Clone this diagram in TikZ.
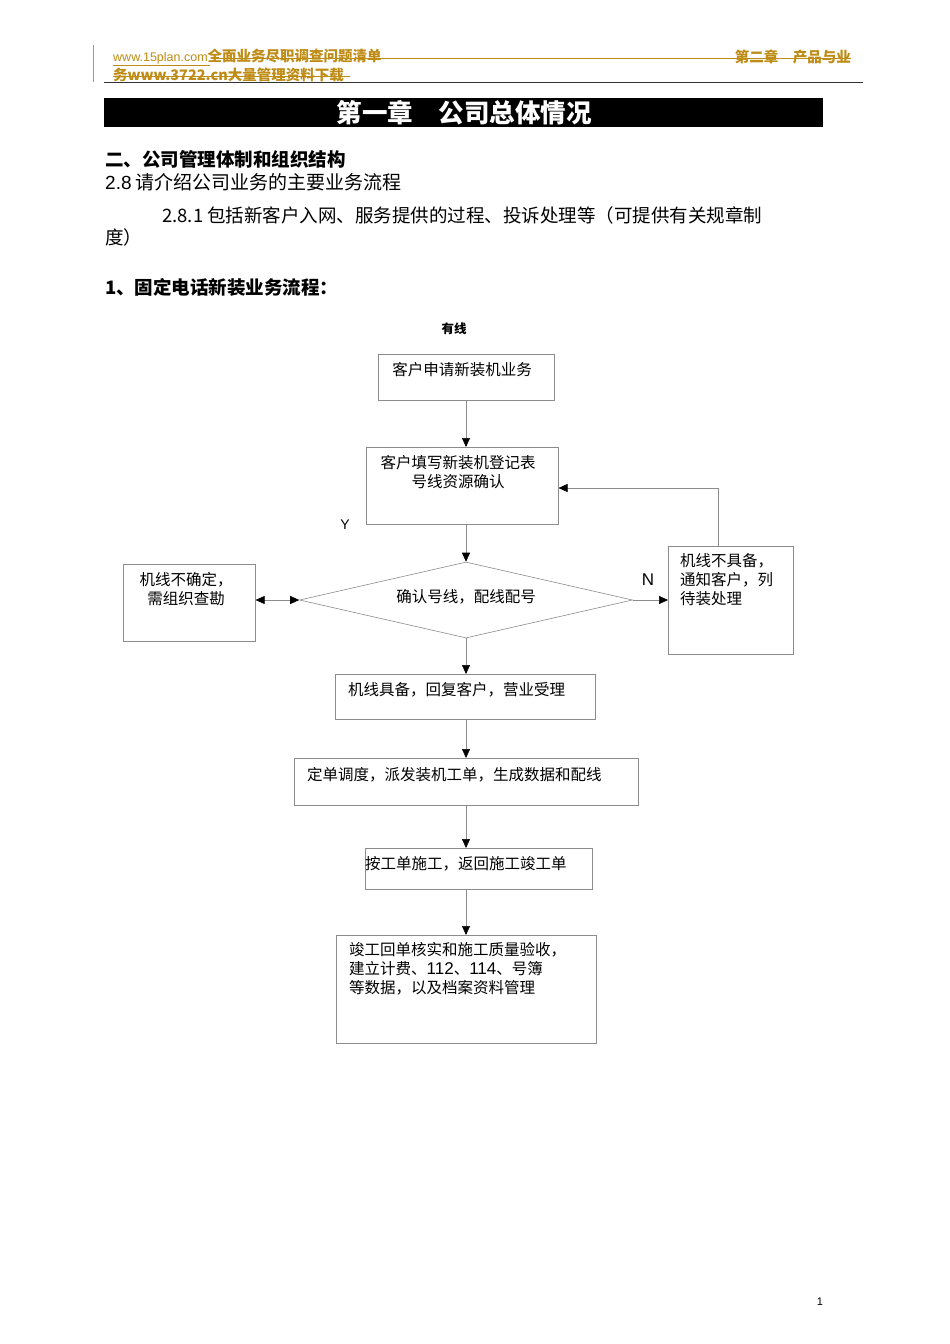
\documentclass[tikz,border=0pt]{standalone}
\usepackage{fontspec}
\setmainfont{Noto Sans CJK SC}
\newfontfamily\lat{Liberation Sans}
\usetikzlibrary{shapes.geometric,arrows.meta}
\definecolor{gold}{RGB}{190,140,20}
\begin{document}
\begin{tikzpicture}[x=1pt,y=-1pt,
  box/.style={draw=black!45,line width=0.6pt,anchor=north west,inner sep=0pt},
  t/.style={font=\fontsize{15.5}{19}\selectfont,inner sep=0pt,align=left},
  tip/.style={Triangle[length=9pt,width=8pt,color=black]},
  arr/.style={draw=black!45,line width=0.6pt,-{Triangle[length=9pt,width=8pt,color=black]}}]
\useasboundingbox (0,0) rectangle (950,1344);
\fill[white] (0,0) rectangle (950,1344);
% header
\draw[black!40] (93,45) -- (93,82);
\node[anchor=west,inner sep=0pt,text=gold,font=\fontsize{14.5}{15}\selectfont] (h1) at (113,57) {{\lat\fontsize{12.5}{15}\selectfont www.15plan.com}\textbf{全面业务尽职调查问题清单}};
\node[anchor=west,inner sep=0pt,text=gold,font=\fontsize{14.5}{15}\selectfont\bfseries] (h2) at (113,75) {务www.3722.cn大量管理资料下载};
\node[anchor=east,inner sep=0pt,text=gold,font=\fontsize{14.5}{15}\selectfont\bfseries] (h3) at (851,57) {第二章\quad 产品与业};
\draw[gold] (212,58) -- (851,58);
\draw[gold] (113,76) -- (350,76);
\draw[gold] (113,65) -- (210,65);
\draw[black!80,line width=0.8pt] (104,82) -- (863,82);
% title
\fill[black] (104,98) rectangle (823,127);
\node[text=white,font=\fontsize{25.5}{27}\selectfont\bfseries,inner sep=0pt] (title) at (464,113) {第一章\quad 公司总体情况};
\node[anchor=west,inner sep=0pt,font=\fontsize{18.5}{20}\selectfont\bfseries] (s1) at (105,159) {二、公司管理体制和组织结构};
\node[anchor=west,inner sep=0pt,font=\fontsize{19}{20}\selectfont] (s2) at (105,182) {{\lat 2.8} 请介绍公司业务的主要业务流程};
\node[anchor=west,inner sep=0pt,font=\fontsize{18.5}{20}\selectfont] (s3) at (162,215) {2.8.1 包括新客户入网、服务提供的过程、投诉处理等（可提供有关规章制};
\node[anchor=west,inner sep=0pt,font=\fontsize{18.5}{20}\selectfont] (s4) at (105,237) {度）};
\node[anchor=west,inner sep=0pt,font=\fontsize{18.5}{20}\selectfont\bfseries] (s5) at (105,287) {1、固定电话新装业务流程：};
\node[inner sep=0pt,font=\fontsize{12.5}{14}\selectfont\bfseries] (yx) at (454,329) {有线};
% boxes
\node[box,minimum width=176pt,minimum height=46pt] (A) at (378,354) {};
\node[t] at (462,370) {客户申请新装机业务};
\node[box,minimum width=192pt,minimum height=77pt] (B) at (366,447) {};
\node[t,align=center] at (458,472) {客户填写新装机登记表\\号线资源确认};
\node[draw=black!45,line width=0.6pt,diamond,aspect=4.4,minimum width=333pt,minimum height=76pt,inner sep=0pt] (D0) at (466,600) {};
\node[t] at (466,597) {确认号线，配线配号};
\node[box,minimum width=132pt,minimum height=77pt] (L) at (123,564) {};
\node[t,align=center] at (186,589) {机线不确定，\\需组织查勘};
\node[box,minimum width=125pt,minimum height=108pt] (R) at (668,546) {};
\node[t,anchor=north west] at (680,553) {机线不具备，\\通知客户，列\\待装处理};
\node[box,minimum width=260pt,minimum height=45pt] (C) at (335,674) {};
\node[t,anchor=west] at (348,690) {机线具备，回复客户，营业受理};
\node[box,minimum width=344pt,minimum height=47pt] (Dd) at (294,758) {};
\node[t,anchor=west] at (307,775) {定单调度，派发装机工单，生成数据和配线};
\node[box,minimum width=227pt,minimum height=41pt] (E) at (365,848) {};
\node[t,anchor=west] at (365,864) {按工单施工，返回施工竣工单};
\node[box,minimum width=260pt,minimum height=108pt] (F) at (336,935) {};
\node[t,anchor=north west] at (349,942) {竣工回单核实和施工质量验收，\\建立计费、{\lat\fontsize{17}{19}\selectfont 112}、{\lat\fontsize{17}{19}\selectfont 114}、号簿\\等数据，以及档案资料管理};
% labels
\node[inner sep=0pt,font=\lat\fontsize{14}{16}\selectfont] (Y) at (345,525) {Y};
\node[inner sep=0pt,font=\lat\fontsize{17}{19}\selectfont] (N) at (648,580) {N};
\node[inner sep=0pt,font=\lat\fontsize{11}{13}\selectfont] (pg) at (820,1302) {1};
% connectors
\draw[arr] (A.south -| D0.north) -- (B.north -| D0.north);
\draw[arr] (B.south -| D0.north) -- (D0.north);
\draw[arr] (D0.south) -- (C.north -| D0.south);
\draw[arr] (C.south -| D0.south) -- (Dd.north -| D0.south);
\draw[arr] (Dd.south -| D0.south) -- (E.north -| D0.south);
\draw[arr] (E.south -| D0.south) -- (F.north -| D0.south);
\draw[arr] (D0.east) -- (R.west |- D0.east);
\draw[arr,{Triangle[length=9pt,width=8pt,color=black]}-{Triangle[length=9pt,width=8pt,color=black]}] (L.east |- D0.west) -- (D0.west);
\coordinate (fb) at (718,488);
\draw[arr] (R.north -| fb) -- (fb) -- (B.east |- fb);
\end{tikzpicture}
\end{document}
